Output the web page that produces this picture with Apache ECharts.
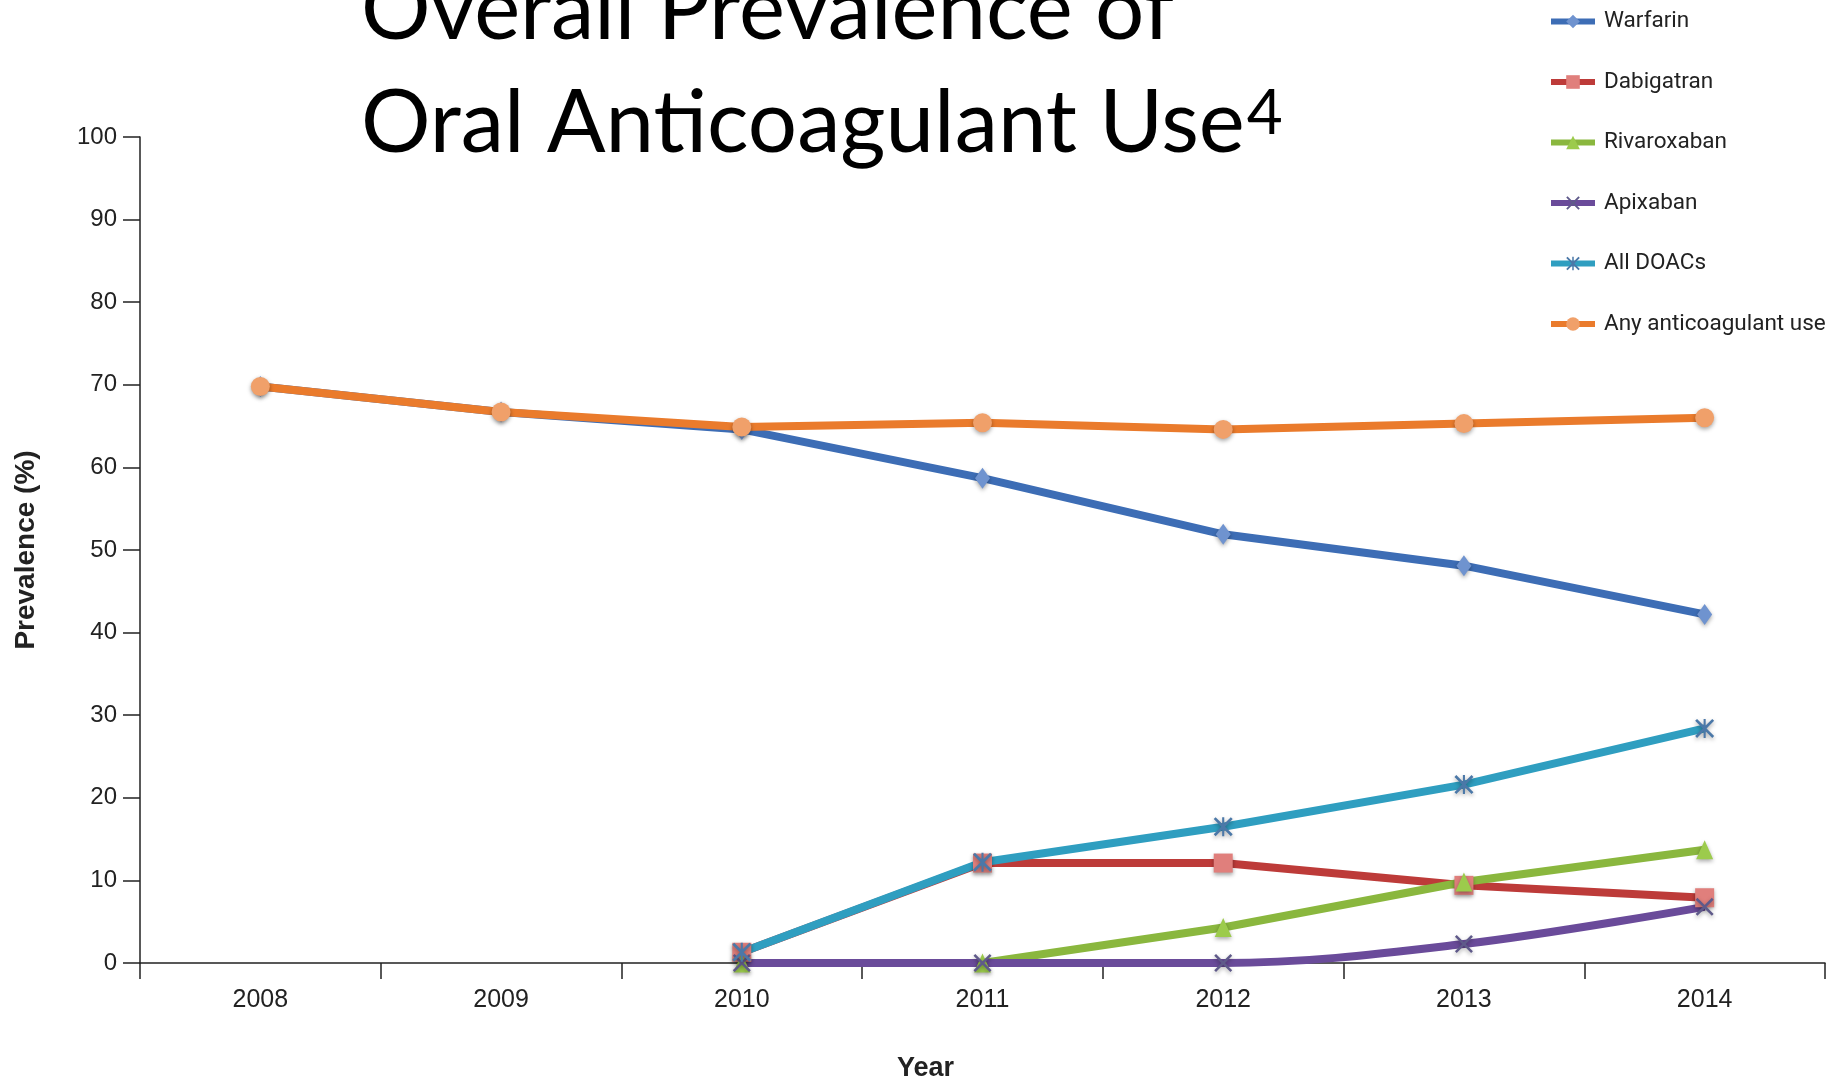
<!DOCTYPE html>
<html>
<head>
<meta charset="utf-8">
<title>Overall Prevalence of Oral Anticoagulant Use</title>
<script src="https://cdn.jsdelivr.net/npm/echarts@6/dist/echarts.min.js"></script>
<style>
  html, body { margin: 0; padding: 0; background: #ffffff; }
  #chart { width: 1838px; height: 1080px; }
</style>
</head>
<body>
<div id="chart"></div>
<script>
// Categories and tick values
const years = ['2008', '2009', '2010', '2011', '2012', '2013', '2014'];
const yTicks = { min: 0, max: 100, step: 10 };

// Prevalence (%) per year for each agent
const warfarin    = [69.8, 66.7, 64.6, 58.7, 51.9, 48.1, 42.2];
const dabigatran  = ['-', '-', 1.3, 12.1, 12.1, 9.4, 7.9];
const rivaroxaban = ['-', '-', 0, 0, 4.3, 9.8, 13.7];
const apixaban    = ['-', '-', 0, 0, 0, 2.3, 6.8];
const allDoacs    = ['-', '-', 1.3, 12.2, 16.5, 21.6, 28.4];
const anyUse      = [69.8, 66.7, 64.9, 65.4, 64.6, 65.3, 66.0];

const seriesNames = ['Warfarin', 'Dabigatran', 'Rivaroxaban', 'Apixaban', 'All DOACs', 'Any anticoagulant use'];

// Marker shapes
const crossPath = 'path://M0,1L1,0L5,4L9,0L10,1L6,5L10,9L9,10L5,6L1,10L0,9L4,5Z';
const starPath = 'path://M0,1L1,0L5,4L9,0L10,1L6,5L10,9L9,10L5,6L1,10L0,9L4,5Z M4.45,0L5.55,0L5.55,10L4.45,10Z';

const labelFont = 'Roboto, Liberation Sans, Arial, sans-serif';

function makeSeries(name, data, color, symbol, symbolSize, markerColor, extra) {
  return Object.assign({
    name: name,
    type: 'line',
    data: data,
    symbol: symbol,
    symbolSize: symbolSize,
    showAllSymbol: true,
    lineStyle: { color: color, width: 8 },
    itemStyle: {
      color: markerColor || color,
      shadowBlur: 4,
      shadowColor: 'rgba(0,0,0,0.35)',
      shadowOffsetY: 2
    },
    emphasis: { disabled: true },
    animation: false
  }, extra || {});
}

const chart = echarts.init(document.getElementById('chart'), null, { renderer: 'canvas' });

const option = {
  backgroundColor: '#ffffff',
  title: {
    text: 'Overall Prevalence of\nOral Anticoagulant Use{sup|4}',
    left: 356,
    top: -51,
    textStyle: {
      fontFamily: 'Lato',
      fontWeight: 'normal',
      fontSize: 87,
      lineHeight: 113,
      color: '#000000',
      rich: {
        sup: {
          fontFamily: 'Lato',
          fontSize: 62,
          lineHeight: 113,
          verticalAlign: 'top',
          padding: [16, 0, 0, 2],
          color: '#000000'
        }
      }
    }
  },
  legend: {
    orient: 'vertical',
    left: 1543,
    top: 5,
    itemWidth: 44,
    itemHeight: 17,
    itemGap: 37.5,
    selectedMode: false,
    lineStyle: { width: 6 },
    textStyle: {
      fontFamily: labelFont,
      fontSize: 22.5,
      color: '#222222',
      padding: [0, 0, 0, 4]
    },
    data: seriesNames
  },
  grid: { left: 140, top: 137, right: 13, bottom: 117, outerBoundsMode: 'none' },
  xAxis: {
    type: 'category',
    data: years,
    boundaryGap: true,
    name: 'Year',
    nameLocation: 'middle',
    nameGap: 92,
    nameTextStyle: {
      fontFamily: 'Liberation Sans, Arial, sans-serif',
      fontWeight: 'bold',
      fontSize: 27,
      color: '#222222',
      padding: [0, 114, 0, 0]
    },
    axisLine: { lineStyle: { color: '#222222', width: 1.5 } },
    axisTick: { show: true, alignWithLabel: false, length: 16, lineStyle: { color: '#222222', width: 1.5 } },
    axisLabel: {
      margin: 25,
      fontFamily: 'Liberation Sans, Arial, sans-serif',
      fontSize: 25,
      color: '#222222'
    },
    splitLine: { show: false }
  },
  yAxis: {
    type: 'value',
    min: yTicks.min,
    max: yTicks.max,
    interval: yTicks.step,
    name: 'Prevalence (%)',
    nameLocation: 'middle',
    nameGap: 100,
    nameRotate: 90,
    nameTextStyle: {
      fontFamily: 'Liberation Sans, Arial, sans-serif',
      fontWeight: 'bold',
      fontSize: 28,
      color: '#222222'
    },
    axisLine: { show: true, lineStyle: { color: '#222222', width: 1.5 } },
    axisTick: { show: true, length: 17, lineStyle: { color: '#222222', width: 1.5 } },
    axisLabel: {
      margin: 23,
      fontFamily: 'Liberation Sans, Arial, sans-serif',
      fontSize: 24,
      color: '#222222'
    },
    splitLine: { show: false }
  },
  series: [
    makeSeries(seriesNames[0], warfarin, '#3d6db5', 'diamond', [15, 21], '#6f93cf'),
    makeSeries(seriesNames[1], dabigatran, '#bd3b39', 'rect', 19, '#e07f7c'),
    makeSeries(seriesNames[2], rivaroxaban, '#8ab73e', 'triangle', [17, 19], '#9ccb4c'),
    makeSeries(seriesNames[3], apixaban, '#6a4b9a', crossPath, 18, '#5f5a8a', { smooth: 0.35 }),
    makeSeries(seriesNames[4], allDoacs, '#2f9ec0', starPath, 19, '#4b78a8'),
    makeSeries(seriesNames[5], anyUse, '#ea7b2c', 'circle', 19, '#f0a06a')
  ]
};

chart.setOption(option);
</script>
</body>
</html>
